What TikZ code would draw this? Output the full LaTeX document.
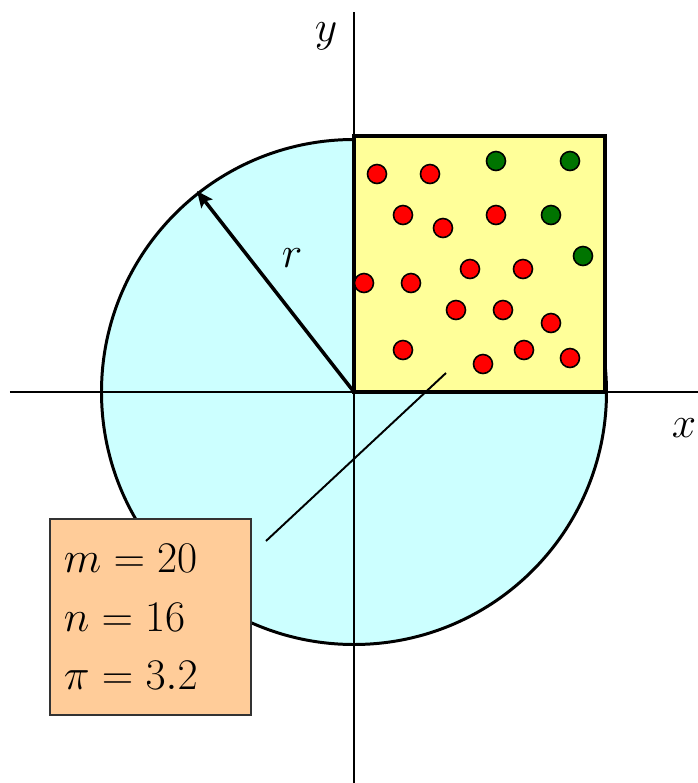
\documentclass[tikz,border=0pt]{standalone}
\usepackage{amsmath}
\usepackage{tikz}
\usetikzlibrary{calc,arrows.meta}

\definecolor{disccyan}{HTML}{CCFFFF}
\definecolor{squareyellow}{HTML}{FFFF99}
\definecolor{boxpeach}{HTML}{FFCC99}
\definecolor{missgreen}{HTML}{007400}

\begin{document}
\begin{tikzpicture}[
  % Sample points: inside the quarter circle (red) or outside it (green)
  hitdot/.style={circle, draw, line width=0.9pt, fill=red, minimum size=0.38cm, inner sep=0pt},
  missdot/.style={circle, draw, line width=0.9pt, fill=missgreen, minimum size=0.38cm, inner sep=0pt},
  axislabel/.style={font=\fontsize{28}{34}\selectfont},
  statbox/.style={draw=black!80, line width=1.1pt, fill=boxpeach, align=left,
                  text width=3.46cm, minimum height=3.92cm, inner xsep=0.28cm, inner ysep=0pt,
                  font=\fontsize{28}{32}\selectfont}
]
  \useasboundingbox (-7.08,-7.82) rectangle (6.88,7.84);

  % Disc of radius r and the unit square over its first quadrant
  \fill[disccyan] (0,0) circle (5.05);
  \draw[line width=1.7pt] (0,0) circle (5.05);
  \draw[line width=2pt, fill=squareyellow] (0,0) rectangle (5.02,5.12);

  % Axes
  \draw[line width=1.7pt] (-6.88,0) -- (6.88,0);
  \draw[line width=1.7pt] (0,7.6) -- (0,-7.82);
  \node[axislabel] (ylab) at (-0.56,7.12) {$y$};
  \node[axislabel] (xlab) at (6.6,-0.72) {$x$};

  % Radius
  \coordinate (centre) at (0,0);
  \coordinate (rim) at (128:5.1);
  \draw[-{Stealth[length=0.32cm,width=0.28cm,inset=0.06cm]}, line width=2pt] (centre) -- (rim);
  \node[axislabel] (rlab) at (-1.24,2.68) {$r$};

  % Red points
  \foreach \px/\py [count=\i] in {0.46/4.36, 1.52/4.36, 0.98/3.54, 1.78/3.28, 2.84/3.54,
      0.20/2.18, 1.14/2.18, 2.32/2.46, 3.38/2.46, 2.04/1.64, 2.98/1.64, 3.94/1.38,
      0.98/0.84, 2.58/0.56, 3.40/0.84, 4.32/0.68}
    \node[hitdot] (hit\i) at (\px,\py) {};

  % Green points
  \foreach \px/\py [count=\i] in {2.84/4.62, 4.32/4.62, 3.94/3.54, 4.58/2.72}
    \node[missdot] (miss\i) at (\px,\py) {};

  % Counts
  \node[statbox, anchor=north west] (stats) at (-6.1,-2.52)
    {$m = 20$\\[0.05cm]$n = 16$\\[0.05cm]$\pi = 3.2$};

  % Pointer from the counts into the square
  \coordinate (lstart) at (-1.76,-2.98);
  \coordinate (lend) at (1.84,0.38);
  \draw[line width=1.1pt] (lstart) -- (lend);

\end{tikzpicture}
\end{document}
